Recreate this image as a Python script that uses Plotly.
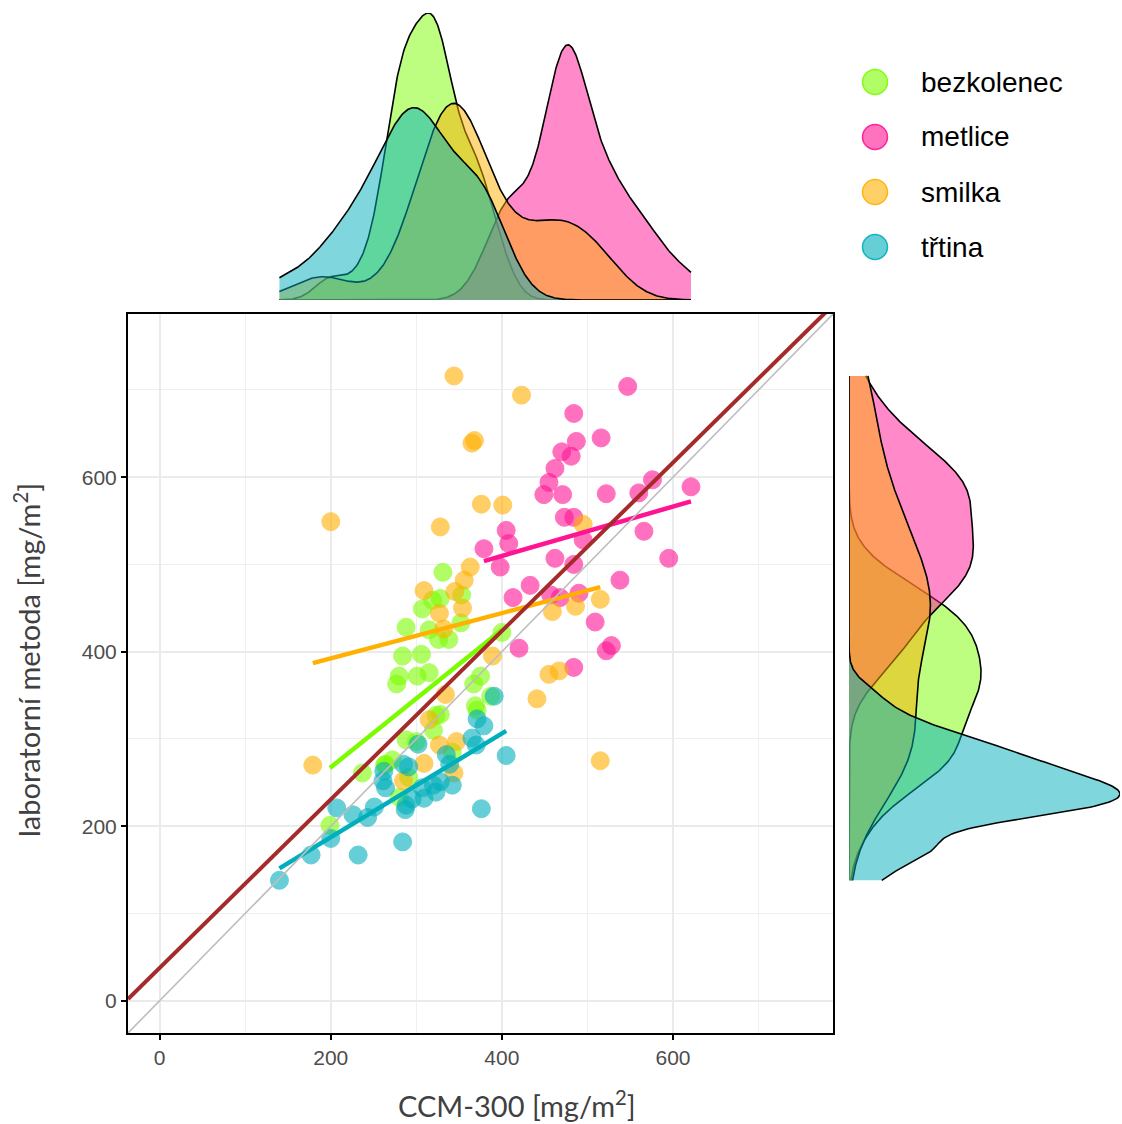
import numpy as np
import plotly.graph_objects as go

# ---------------- data ----------------
groups = ["bezkolenec", "metlice", "smilka", "třtina"]

bez_x = [331, 319, 328, 307, 353, 352, 315, 326, 338, 400, 288, 284, 306, 280, 277, 301,
         315, 375, 367, 369, 371, 387, 323, 328, 320, 300, 342, 272, 263, 237, 291, 280,
         199, 288, 264]
bez_y = [491, 459, 461, 449, 465, 433, 425, 414, 414, 422, 428, 395, 397, 372, 363, 372,
         376, 372, 363, 338, 333, 349, 327, 328, 310, 297, 285, 276, 270, 261, 256, 233,
         201, 299, 271]

met_x = [547, 484, 516, 487, 470, 481, 462, 455, 449, 471, 522, 560, 576, 621, 473, 484,
         405, 408, 379, 495, 566, 462, 484, 398, 595, 433, 413, 457, 468, 490, 538, 509,
         522, 528, 420, 484]
met_y = [704, 673, 645, 641, 629, 624, 610, 594, 580, 580, 581, 582, 597, 589, 554, 554,
         539, 524, 518, 528, 538, 507, 500, 497, 507, 476, 462, 465, 462, 467, 482, 434,
         401, 407, 404, 382]

smi_x = [344, 423, 368, 365, 200, 376, 401, 328, 495, 363, 356, 309, 345, 354, 327, 515,
         459, 486, 332, 389, 455, 467, 441, 334, 179, 515, 315, 327, 347, 309, 344, 285]
smi_y = [716, 694, 642, 639, 549, 569, 568, 543, 546, 497, 482, 470, 469, 450, 444, 460,
         446, 452, 426, 395, 374, 378, 346, 351, 270, 275, 322, 293, 297, 272, 261, 252]

trt_x = [391, 371, 379, 405, 365, 370, 302, 335, 339, 285, 291, 261, 264, 328, 320, 307,
         342, 323, 309, 288, 287, 376, 251, 226, 243, 207, 200, 177, 232, 284, 140, 262,
         295]
trt_y = [349, 323, 315, 281, 301, 293, 294, 282, 271, 271, 268, 252, 244, 251, 247, 244,
         247, 239, 232, 224, 219, 220, 222, 213, 210, 221, 186, 167, 167, 182, 138, 263,
         231]

# per-group linear fits (intercept, slope)
fit_intercept = [109.9, 396.5, 340.6, 68.3]
fit_slope = [0.788, 0.283, 0.259, 0.595]
# overall fit (brown line) and identity line
overall_intercept = 37.7
overall_slope = 0.965

x_ticks = [0, 200, 400, 600]
y_ticks = [0, 200, 400, 600]
axis_range = [-37, 787]

# ---------------- styling ----------------
base_rgb = {
    "bezkolenec": (124, 252, 0),
    "metlice": (255, 20, 147),
    "smilka": (255, 176, 0),
    "třtina": (0, 175, 187),
}


def rgba(c, a):
    return f"rgba({c[0]},{c[1]},{c[2]},{a})"


xs = [bez_x, met_x, smi_x, trt_x]
ys = [bez_y, met_y, smi_y, trt_y]


def bw_nrd0(v):
    v = np.asarray(v, float)
    sd = np.std(v, ddof=1)
    q75, q25 = np.percentile(v, [75, 25])
    lo = min(sd, (q75 - q25) / 1.34)
    return 0.9 * lo * len(v) ** (-0.2)


def kde(v, grid):
    v = np.asarray(v, float)
    h = bw_nrd0(v)
    z = (grid[:, None] - v[None, :]) / h
    return np.exp(-0.5 * z ** 2).sum(axis=1) / (len(v) * h * np.sqrt(2 * np.pi))


all_x = np.concatenate([np.asarray(a, float) for a in xs])
all_y = np.concatenate([np.asarray(a, float) for a in ys])
gx = np.linspace(all_x.min(), all_x.max(), 512)
gy = np.linspace(all_y.min(), all_y.max(), 512)

fig = go.Figure()

# points
for g, x, y in zip(groups, xs, ys):
    c = base_rgb[g]
    fig.add_trace(go.Scatter(
        x=x, y=y, mode="markers", name=g, showlegend=False,
        marker=dict(size=18, color=rgba(c, 1), opacity=0.6,
                    line=dict(width=1, color=rgba(c, 1))),
        xaxis="x", yaxis="y"))

# group regression lines
for g, x, b0, b1 in zip(groups, xs, fit_intercept, fit_slope):
    lx = np.array([min(x), max(x)], float)
    fig.add_trace(go.Scatter(
        x=lx, y=b0 + b1 * lx, mode="lines", showlegend=False,
        line=dict(color=rgba(base_rgb[g], 1), width=4.5), xaxis="x", yaxis="y"))

# identity line
ax = np.array(axis_range, float)
fig.add_trace(go.Scatter(x=ax, y=ax, mode="lines", showlegend=False,
                         line=dict(color="#BEBEBE", width=1.6), xaxis="x", yaxis="y"))
# overall line
fig.add_trace(go.Scatter(x=ax, y=overall_intercept + overall_slope * ax, mode="lines",
                         showlegend=False, line=dict(color="#A52A2A", width=4),
                         xaxis="x", yaxis="y"))

# marginal densities
top_max = 0
right_max = 0
for g, x, y in zip(groups, xs, ys):
    c = base_rgb[g]
    dx = kde(x, gx)
    dy = kde(y, gy)
    top_max = max(top_max, dx.max())
    right_max = max(right_max, dy.max())
    fig.add_trace(go.Scatter(x=gx, y=dx, mode="lines", fill="tozeroy",
                             fillcolor=rgba(c, 0.5), line=dict(color="black", width=1.6),
                             showlegend=False, xaxis="x2", yaxis="y2"))
    fig.add_trace(go.Scatter(x=dy, y=gy, mode="lines", fill="tozerox",
                             fillcolor=rgba(c, 0.5), line=dict(color="black", width=1.6),
                             showlegend=False, xaxis="x3", yaxis="y3"))

W, H = 1122, 1124


def px(v):
    return v / W


def py(v):
    return 1 - v / H


main_x_dom = [px(128), px(833)]
main_y_dom = [py(1033), py(314)]

tickfont = dict(family="Liberation Sans, Arial, sans-serif", size=21, color="#4D4D4D")
axis_common = dict(
    range=axis_range, showline=True, linecolor="black", linewidth=2, mirror=True,
    ticks="outside", ticklen=5, tickwidth=1.5, tickcolor="black",
    showgrid=True, gridcolor="#EBEBEB", gridwidth=1.5, zeroline=False,
    minor=dict(dtick=100, tick0=0, showgrid=True, gridcolor="#EFEFEF", gridwidth=1, ticks=""),
    tickfont=tickfont,
)

shapes = []
annotations = []
leg_y = [82, 137, 192, 247]
for g, yy in zip(groups, leg_y):
    c = base_rgb[g]
    shapes.append(dict(type="circle", xref="paper", yref="paper",
                       xsizemode="pixel", ysizemode="pixel",
                       xanchor=px(875), yanchor=py(yy),
                       x0=-12.5, x1=12.5, y0=-12.5, y1=12.5,
                       fillcolor=rgba(c, 0.6), line=dict(color=rgba(c, 0.9), width=1.5)))
    annotations.append(dict(text=g, xref="paper", yref="paper", x=px(919), y=py(yy),
                            xanchor="left", yanchor="middle", showarrow=False,
                            font=dict(family="Liberation Sans, Arial, sans-serif",
                                      size=28, color="black")))

title_font = dict(family="Lato, Open Sans, sans-serif", size=29, color="#404040")
annotations.append(dict(text="CCM-300 [mg/m<sup>2</sup>]", xref="paper", yref="paper",
                        x=px(517), y=py(1104), xanchor="center", yanchor="middle",
                        showarrow=False, font=title_font))
annotations.append(dict(text="laboratorní metoda [mg/m<sup>2</sup>]", xref="paper",
                        yref="paper", x=px(27), y=py(660), xanchor="center",
                        yanchor="middle", textangle=-90, showarrow=False, font=title_font))

fig.update_layout(
    width=W, height=H, margin=dict(l=0, r=0, t=0, b=0),
    paper_bgcolor="white", plot_bgcolor="white", showlegend=False,
    xaxis=dict(domain=main_x_dom, anchor="y", tickvals=x_ticks, **axis_common),
    yaxis=dict(domain=main_y_dom, anchor="x", tickvals=y_ticks, **axis_common),
    xaxis2=dict(domain=main_x_dom, anchor="y2", range=axis_range, visible=False),
    yaxis2=dict(domain=[py(300), py(13)], anchor="x2", range=[0, top_max], visible=False),
    xaxis3=dict(domain=[px(849), px(1120)], anchor="y3", range=[0, right_max], visible=False),
    yaxis3=dict(domain=main_y_dom, anchor="x3", range=axis_range, visible=False),
    shapes=shapes, annotations=annotations,
)

fig.write_html("out.html", config={"displayModeBar": False},
               post_script="document.body.style.margin='0px';"
                           "document.body.style.overflow='hidden';")
